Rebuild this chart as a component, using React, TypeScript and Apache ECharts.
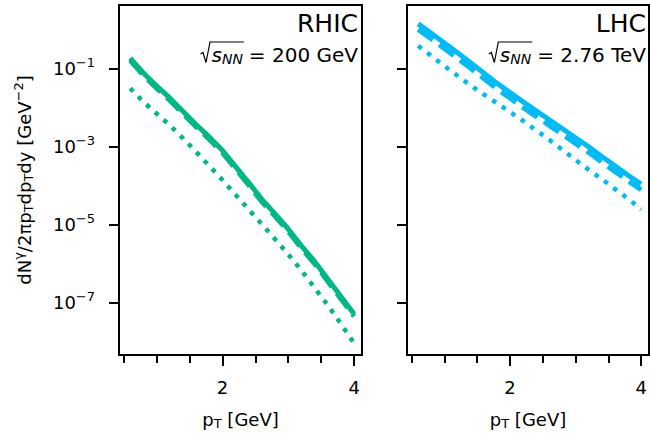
import React, { useEffect, useRef } from "react";
import * as echarts from "echarts";

// transverse momentum grid [GeV]
const pT = [0.6, 0.8, 1.0, 1.2, 1.4, 1.6, 1.8, 2.0, 2.2, 2.4, 2.6, 2.8, 3.0, 3.2, 3.4, 3.6, 3.8, 4.0];

// RHIC (200 GeV) spectra [GeV^-2]
const rhicSolid = [1.82e-1, 7.59e-2, 3.55e-2, 1.74e-2, 7.94e-3, 3.63e-3, 1.74e-3, 7.94e-4, 3.02e-4, 1.17e-4, 4.37e-5, 1.86e-5, 7.59e-6, 2.82e-6, 1.12e-6, 3.98e-7, 1.41e-7, 5.01e-8];
const rhicDashed = [1.6e-1, 6.6e-2, 3.1e-2, 1.52e-2, 6.9e-3, 3.2e-3, 1.52e-3, 6.9e-4, 2.65e-4, 1.02e-4, 3.8e-5, 1.62e-5, 6.6e-6, 2.45e-6, 9.8e-7, 3.45e-7, 1.23e-7, 4.4e-8];
const rhicDotted = [3.09e-2, 1.38e-2, 6.92e-3, 3.47e-3, 1.62e-3, 7.24e-4, 3.16e-4, 1.38e-4, 5.75e-5, 2.4e-5, 1.0e-5, 4.17e-6, 1.7e-6, 6.61e-7, 2.34e-7, 8.51e-8, 2.82e-8, 8.91e-9];

// LHC (2.76 TeV) spectra [GeV^-2]
const lhcSolid = [1.38, 0.794, 0.447, 0.251, 0.138, 7.59e-2, 4.17e-2, 2.4e-2, 1.38e-2, 8.13e-3, 4.79e-3, 2.82e-3, 1.66e-3, 9.77e-4, 5.5e-4, 3.16e-4, 1.82e-4, 1.07e-4];
const lhcDashed = [0.99, 0.57, 0.32, 0.18, 0.1, 5.5e-2, 3.0e-2, 1.73e-2, 9.9e-3, 5.85e-3, 3.45e-3, 2.03e-3, 1.19e-3, 7.0e-4, 3.96e-4, 2.28e-4, 1.31e-4, 7.7e-5];
const lhcDotted = [0.38, 0.209, 0.115, 6.46e-2, 3.63e-2, 2.14e-2, 1.29e-2, 7.59e-3, 4.47e-3, 2.57e-3, 1.48e-3, 8.13e-4, 4.47e-4, 2.51e-4, 1.45e-4, 8.13e-5, 4.57e-5, 2.4e-5];

// ticks
const yTickExponents = [-7, -5, -3, -1];
const xTickLabels = [2, 4];
const xMinorTicks = [0.5, 1, 1.5, 2.5, 3, 3.5];

const panelNames = ["RHIC", "LHC"];
const panelEnergies = ["200 GeV", "2.76 TeV"];
const panelColors = ["#00b886", "#00bbf5"];

const FONT = '"DejaVu Sans"';
const X_MIN = 0.43;
const X_MAX = 4.12;
const Y_MIN = -8.35;
const Y_MAX = 0.623;

export default function App() {
  const ref = useRef<HTMLDivElement>(null);
  useEffect(() => {
    const chart = echarts.init(ref.current!, null, { renderer: "svg" });
    const ctx = document.createElement("canvas").getContext("2d")!;
    const tw = (t: string, size: number, italic = false) => {
      ctx.font = `${italic ? "italic " : ""}${size}px ${FONT}`;
      return ctx.measureText(t).width;
    };

    const grids = [
      { left: 119, top: 5, width: 243, height: 350 },
      { left: 407, top: 5, width: 242, height: 350 },
    ];

    const rich = {
      n: { fontSize: 18, fontFamily: FONT, color: "#000", lineHeight: 24 },
      sup: { fontSize: 13, fontFamily: FONT, color: "#000", lineHeight: 13, verticalAlign: "top" },
      sub: { fontSize: 13, fontFamily: FONT, color: "#000", lineHeight: 13, verticalAlign: "top", padding: [10, 0, 0, 0] },
    };

    const xAxes: any[] = [];
    const yAxes: any[] = [];
    // minor-tick axes (0, 1) and major-tick axes (2, 3)
    [0, 1].forEach((g) => {
      xAxes.push({
        gridIndex: g,
        type: "value",
        position: "bottom",
        min: X_MIN,
        max: X_MAX,
        axisLine: { show: false, onZero: false },
        splitLine: { show: false },
        axisTick: { show: true, inside: false, length: 8, customValues: xMinorTicks, lineStyle: { color: "#000", width: 2 } },
        axisLabel: { show: false },
        name: "{n|p}{sub|T}{n| [GeV]}",
        nameLocation: "middle",
        nameGap: 52,
        nameTextStyle: { rich },
      });
    });
    [0, 1].forEach((g) => {
      xAxes.push({
        gridIndex: g,
        type: "value",
        position: "bottom",
        offset: 0,
        min: X_MIN,
        max: X_MAX,
        axisLine: { show: false, onZero: false },
        splitLine: { show: false },
        axisTick: { show: true, inside: false, length: 11, customValues: xTickLabels, lineStyle: { color: "#000", width: 2 } },
        axisLabel: {
          show: true,
          customValues: xTickLabels,
          margin: 23,
          fontSize: 18,
          fontFamily: FONT,
          color: "#000",
          formatter: (v: number) => String(v),
        },
      });
    });
    [0, 1].forEach((g) => {
      yAxes.push({
        gridIndex: g,
        type: "value",
        min: Y_MIN,
        max: Y_MAX,
        axisLine: { show: false, onZero: false },
        splitLine: { show: false },
        axisTick: { show: true, inside: false, length: 10, customValues: yTickExponents, lineStyle: { color: "#000", width: 2 } },
        axisLabel: {
          show: g === 0,
          customValues: yTickExponents,
          margin: 24,
          formatter: (v: number) => `{n|10}{sup|\u2212${Math.abs(Math.round(v))}}`,
          rich,
        },
        name: g === 0 ? "{n|dN}{sup|\u03b3}{n|/2\u03c0p}{sub|T}{n|dp}{sub|T}{n|dy [GeV}{sup|\u22122}{n|]}" : "",
        nameLocation: "middle",
        nameRotate: 90,
        nameGap: 83,
        nameTextStyle: { rich },
      });
    });

    const toLog = (vals: number[]) => pT.map((x, i) => [x, Math.log10(vals[i])]);
    const panelData = [
      [rhicSolid, rhicDashed, rhicDotted],
      [lhcSolid, lhcDashed, lhcDotted],
    ];
    const series: any[] = [];
    panelData.forEach((sets, g) => {
      const styles = [
        { width: 5, type: "solid" },
        { width: 5, type: [18, 8] },
        { width: 4.5, type: [4.5, 7] },
      ];
      [2, 1, 0].forEach((k) => {
        series.push({
          type: "line",
          xAxisIndex: g,
          yAxisIndex: g,
          data: toLog(sets[k]),
          showSymbol: false,
          silent: true,
          z: 3 + (2 - k),
          lineStyle: { color: panelColors[g], width: styles[k].width, type: styles[k].type, cap: "butt", join: "round" },
        });
      });
    });

    const graphics: any[] = [];
    const rights = [358, 646];
    [0, 1].forEach((g) => {
      const R = rights[g];
      const baseT = 31.7;
      const baseE = 61.7;
      graphics.push({
        type: "text",
        x: R,
        y: baseT - 0.346 * 25,
        style: { text: panelNames[g], fontSize: 25, fontFamily: FONT, fill: "#000", align: "right", verticalAlign: "middle" },
        z: 100,
      });
      const eq = "= " + panelEnergies[g];
      const eqW = tw(eq, 20);
      const nnRight = R - eqW - 6;
      const nnW = tw("NN", 14, true);
      const sRight = nnRight - nnW;
      const sW = tw("s", 20, true);
      const sLeft = sRight - sW;
      const rl = sLeft - 11;
      graphics.push({
        type: "text",
        x: R,
        y: baseE - 0.346 * 20,
        style: { text: eq, fontSize: 20, fontFamily: FONT, fill: "#000", align: "right", verticalAlign: "middle" },
        z: 100,
      });
      graphics.push({
        type: "text",
        x: nnRight,
        y: baseE + 2 - 0.346 * 14,
        style: { text: "NN", fontSize: 14, fontStyle: "italic", fontFamily: FONT, fill: "#000", align: "right", verticalAlign: "middle" },
        z: 100,
      });
      graphics.push({
        type: "text",
        x: sRight,
        y: baseE - 0.346 * 20,
        style: { text: "s", fontSize: 20, fontStyle: "italic", fontFamily: FONT, fill: "#000", align: "right", verticalAlign: "middle" },
        z: 100,
      });
      graphics.push({
        type: "polyline",
        shape: { points: [[rl, 54], [rl + 2.5, 52.5], [rl + 5.5, 62.5], [rl + 9.5, 42], [nnRight + 1, 42]] },
        style: { stroke: "#000", lineWidth: 1.2, fill: null },
        z: 100,
      });
    });

    const option: any = {
      animation: false,
      backgroundColor: "#fff",
      grid: grids.map((gr) => ({ ...gr, show: true, borderColor: "#000", borderWidth: 2, backgroundColor: "transparent", containLabel: false })),
      xAxis: xAxes,
      yAxis: yAxes,
      series,
      graphic: graphics,
    };
    chart.setOption(option);
    return () => chart.dispose();
  }, []);
  return <div ref={ref} style={{ position: "fixed", left: 0, top: 0, width: 650, height: 436 }} />;
}
